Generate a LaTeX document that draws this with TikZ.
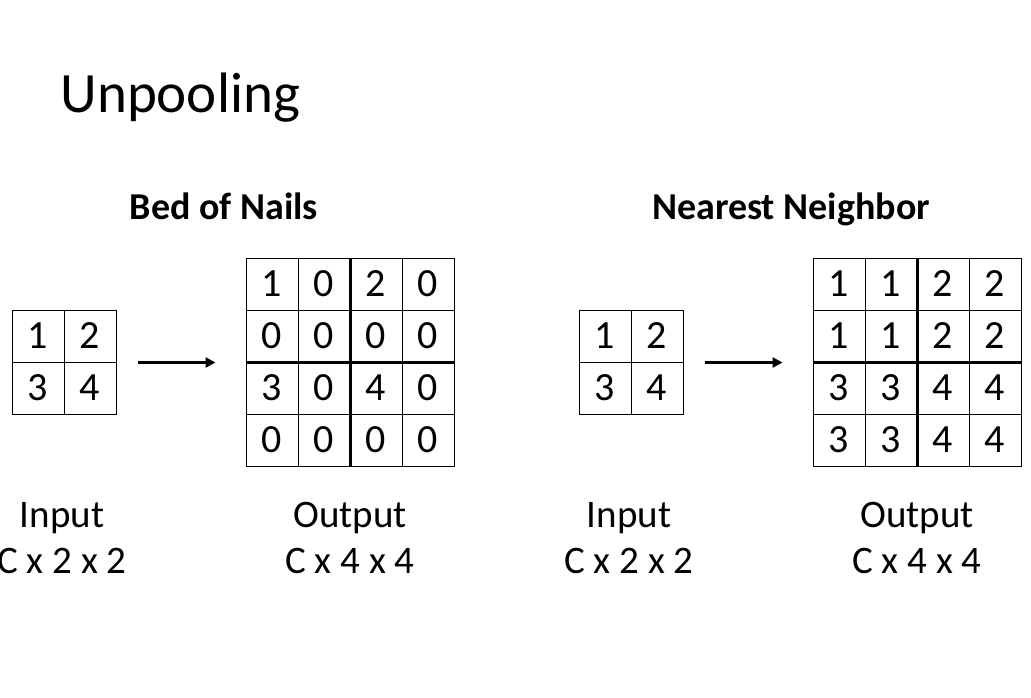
\documentclass[tikz,border=0pt]{standalone}
\usepackage{fontspec}
\setmainfont{Carlito}
\usetikzlibrary{arrows.meta}

\begin{document}
\begin{tikzpicture}[x=0.5pt,y=-0.5pt,>={Triangle[length=5pt,width=5pt]},
                    line width=0.5pt]
  \tikzstyle{cell}=[draw=black,minimum size=26pt,inner sep=0pt,
                    font=\fontsize{20}{24}\selectfont]
  \tikzstyle{quadline}=[line width=1.75pt]
  \tikzstyle{upsample}=[->,line width=1.25pt,shorten <=10.5pt,shorten >=15pt]
  \tikzstyle{headtext}=[anchor=base,font=\bfseries\fontsize{19}{23}\selectfont]
  \tikzstyle{shapetext}=[anchor=base,align=center,font=\fontsize{19.5}{23}\selectfont]

  \useasboundingbox (0,0) rectangle (1031,697);

  \node[anchor=base west,inner sep=0pt,font=\fontsize{28.5}{34}\selectfont]
        (title) at (60,112) {Unpooling};
  \node[headtext] (bnhead) at (224,219) {Bed of Nails};
  \node[headtext] (nnhead) at (791,219) {Nearest Neighbor};

  % bed of nails
  \foreach \row [count=\r] in {{1,2},{3,4}}
    \foreach \v [count=\c] in \row
      \node[cell] (bnin-\r\c) at (-14+52*\c,284+52*\r) {\v};
  \foreach \row [count=\r] in {{1,0,2,0},{0,0,0,0},{3,0,4,0},{0,0,0,0}}
    \foreach \v [count=\c] in \row
      \node[cell] (bnout-\r\c) at (220+52*\c,232+52*\r) {\v};
  \draw[quadline] (bnout-12.north east) -- (bnout-42.south east);
  \draw[quadline] (bnout-21.south west) -- (bnout-24.south east);
  \draw[upsample] (bnin-12.south east) -- (bnout-21.south west);

  % nearest neighbor
  \foreach \row [count=\r] in {{1,2},{3,4}}
    \foreach \v [count=\c] in \row
      \node[cell] (nnin-\r\c) at (553+52*\c,284+52*\r) {\v};
  \foreach \row [count=\r] in {{1,1,2,2},{1,1,2,2},{3,3,4,4},{3,3,4,4}}
    \foreach \v [count=\c] in \row
      \node[cell] (nnout-\r\c) at (787+52*\c,232+52*\r) {\v};
  \draw[quadline] (nnout-12.north east) -- (nnout-42.south east);
  \draw[quadline] (nnout-21.south west) -- (nnout-24.south east);
  \draw[upsample] (nnin-12.south east) -- (nnout-21.south west);

  \node[shapetext] (bninlbl) at (62,573) {Input\\C x 2 x 2};
  \node[shapetext] (bnoutlbl) at (350,573) {Output\\C x 4 x 4};
  \node[shapetext] (nninlbl) at (629,573) {Input\\C x 2 x 2};
  \node[shapetext] (nnoutlbl) at (917,573) {Output\\C x 4 x 4};
\end{tikzpicture}
\end{document}
